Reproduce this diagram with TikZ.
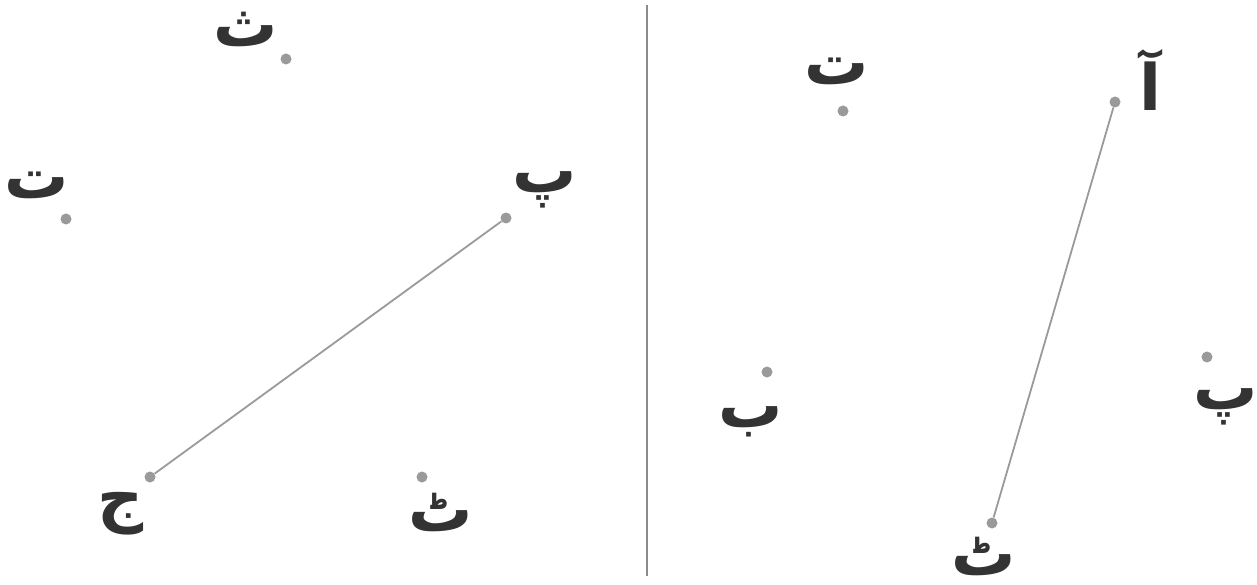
\documentclass[tikz,border=0pt]{standalone}
\usepackage{fontspec}
\TeXXeTstate=1
\newfontfamily\arabicfont[Script=Arabic]{DejaVu Sans}
\definecolor{dotgray}{HTML}{9A9A9A}
\definecolor{ink}{HTML}{333333}
\tikzset{
  pt/.style={circle,fill=dotgray,draw=none,inner sep=0pt,minimum size=11pt},
  lbl/.style={text=ink,inner sep=0pt,font=\arabicfont\bfseries\fontsize{64}{72}\selectfont},
  seg/.style={draw=dotgray,line width=1.8pt},
  divider/.style={draw=dotgray!90!black,line width=2pt}
}
\begin{document}
\begin{tikzpicture}[x=1pt,y=-1pt]
\useasboundingbox (0,0) rectangle (1257,585);
% left panel
\node[pt] (la) at (286,59) {};
\node[pt] (lb) at (66,219) {};
\node[pt] (lc) at (506,218) {};
\node[pt] (ld) at (150,477) {};
\node[pt] (le) at (422,477) {};
\node[lbl] (tla) at (246,29) {\beginR ث\endR};
\node[lbl] (tlb) at (37,185) {\beginR ت\endR};
\node[lbl] (tlc) at (545,190) {\beginR پ\endR};
\node[lbl] (tld) at (121,514) {\beginR ج\endR};
\node[lbl] (tle) at (441,512) {\beginR ٹ\endR};
\draw[seg] (lc) -- (ld);
% divider
\coordinate (dt) at (647,5);
\coordinate (db) at (647,576);
\draw[divider] (dt) -- (db);
% right panel
\node[pt] (ra) at (843,111) {};
\node[pt] (rb) at (1115,102) {};
\node[pt] (rc) at (767,372) {};
\node[pt] (rd) at (1207,357) {};
\node[pt] (re) at (992,523) {};
\node[lbl] (tra) at (837,71) {\beginR ت\endR};
\node[lbl] (trb) at (1150,80) {\beginR آ\endR};
\node[lbl] (trc) at (751,422) {\beginR ب\endR};
\node[lbl] (trd) at (1226,407) {\beginR پ\endR};
\node[lbl] (tre) at (984,556) {\beginR ٹ\endR};
\draw[seg] (rb) -- (re);
\end{tikzpicture}
\end{document}
